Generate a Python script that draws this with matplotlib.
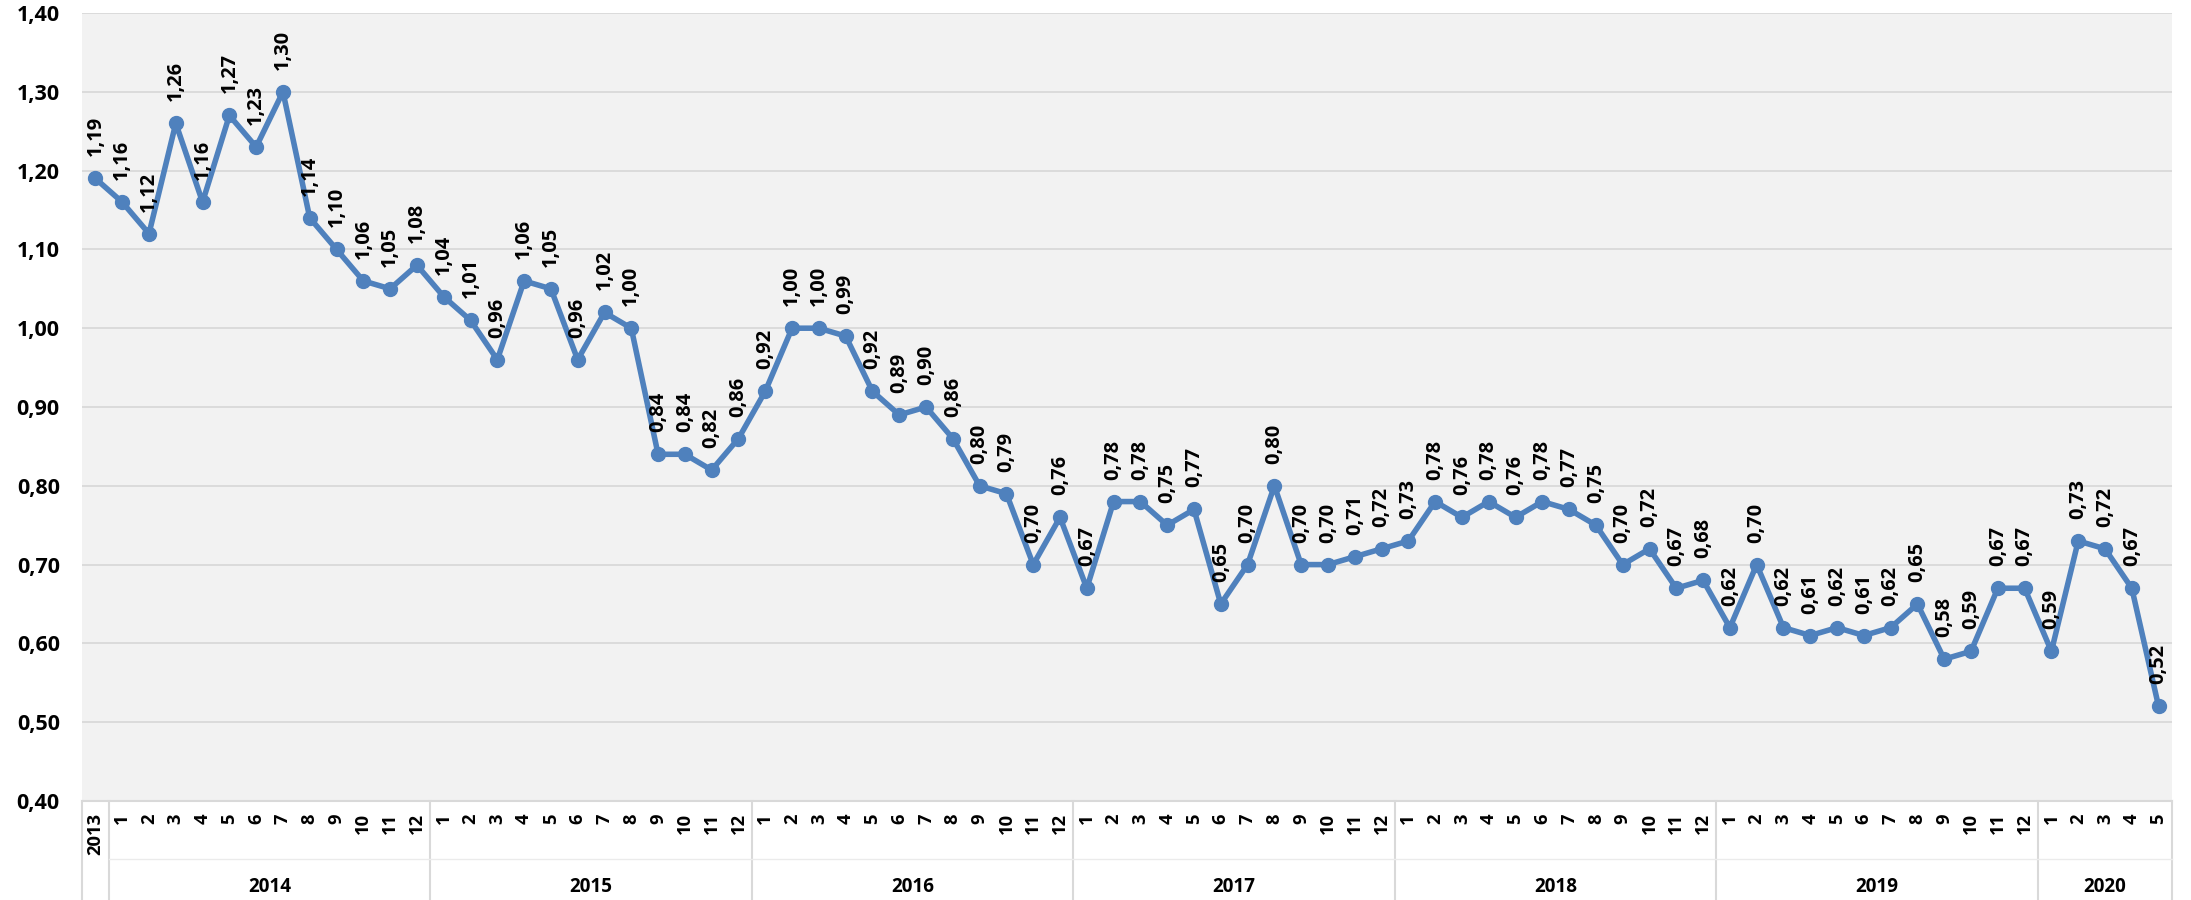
import matplotlib
matplotlib.use("Agg")
import matplotlib.pyplot as plt
import matplotlib.transforms as mtransforms
import numpy as np

plt.rcParams['font.family'] = ['Open Sans', 'DejaVu Sans']
plt.rcParams['font.weight'] = 'bold'

# Monthly values: one point for 2013, then months of 2014-2020
first_label = "2013"
first_value = [1.19]
years = ["2014", "2015", "2016", "2017", "2018", "2019", "2020"]
values_2014 = [1.16, 1.12, 1.26, 1.16, 1.27, 1.23, 1.30, 1.14, 1.10, 1.06, 1.05, 1.08]
values_2015 = [1.04, 1.01, 0.96, 1.06, 1.05, 0.96, 1.02, 1.00, 0.84, 0.84, 0.82, 0.86]
values_2016 = [0.92, 1.00, 1.00, 0.99, 0.92, 0.89, 0.90, 0.86, 0.80, 0.79, 0.70, 0.76]
values_2017 = [0.67, 0.78, 0.78, 0.75, 0.77, 0.65, 0.70, 0.80, 0.70, 0.70, 0.71, 0.72]
values_2018 = [0.73, 0.78, 0.76, 0.78, 0.76, 0.78, 0.77, 0.75, 0.70, 0.72, 0.67, 0.68]
values_2019 = [0.62, 0.70, 0.62, 0.61, 0.62, 0.61, 0.62, 0.65, 0.58, 0.59, 0.67, 0.67]
values_2020 = [0.59, 0.73, 0.72, 0.67, 0.52]
yearly = [values_2014, values_2015, values_2016, values_2017, values_2018, values_2019, values_2020]

y_ticks = [0.40, 0.50, 0.60, 0.70, 0.80, 0.90, 1.00, 1.10, 1.20, 1.30, 1.40]

values = first_value + [v for ys in yearly for v in ys]
month_labels = [first_label] + [str(m + 1) for ys in yearly for m in range(len(ys))]
x = np.arange(len(values))

W, H = 2191, 900
fig = plt.figure(figsize=(W / 100, H / 100), dpi=100)
fig.patch.set_facecolor("white")
renderer = fig.canvas.get_renderer()


def size_for_width(sample, width_px, base=12.0):
    """Font size (pt) at which `sample` renders `width_px` pixels wide in bold."""
    t = fig.text(0, 0, sample, fontsize=base, fontweight="bold")
    w = t.get_window_extent(renderer=renderer).width
    t.remove()
    return base * width_px / w


fs_ytick = size_for_width("1,40", 43)
fs_value = size_for_width("1,00", 40)
fs_month = size_for_width("10", 21)
fs_year = size_for_width("2017", 43)

ax = fig.add_axes([82 / W, (H - 801) / H, (2172 - 82) / W, (801 - 13) / H])
ax.set_facecolor("#F2F2F2")

ax.set_xlim(-0.5, len(values) - 0.5)
ax.set_ylim(0.40, 1.40)
ax.set_yticks(y_ticks)
ax.set_yticklabels([f"{t:.2f}".replace(".", ",") for t in y_ticks],
                   fontsize=fs_ytick, fontweight="bold")
ax.tick_params(axis="y", length=0, pad=16)
ax.set_xticks([])
ax.grid(axis="y", color="#D9D9D9", linewidth=1.3)
ax.set_axisbelow(True)
for s in ax.spines.values():
    s.set_visible(False)

line_color = "#4F81BD"
ax.plot(x, values, color=line_color, linewidth=4.0, marker="o", markersize=10,
        markeredgewidth=1, markerfacecolor=line_color, markeredgecolor=line_color,
        zorder=3, clip_on=False)

# Value labels above each point
for xi, v in zip(x, values):
    ax.annotate(f"{v:.2f}".replace(".", ","), xy=(xi, v), xytext=(0, 22),
                textcoords="offset pixels", rotation=90, ha="center", va="bottom",
                fontsize=fs_value, fontweight="bold", color="black", zorder=4)

# Two-level category axis
trans = mtransforms.blended_transform_factory(ax.transData, ax.transAxes)
sep_color = "#D9D9D9"
ax.plot([-0.5, len(values) - 0.5], [0, 0], transform=trans, color=sep_color,
        linewidth=1.5, clip_on=False)
axis_px = 801 - 13
bottom_frac = -(H - 801) / axis_px
mid_frac = -(859 - 801) / axis_px

bounds = [-0.5, 0.5]
for ys in yearly:
    bounds.append(bounds[-1] + len(ys))
for b in bounds:
    ax.plot([b, b], [0, bottom_frac], transform=trans, color=sep_color,
            linewidth=1.5, clip_on=False)
ax.plot([0.5, bounds[-1]], [mid_frac, mid_frac], transform=trans, color="#EBEBEB",
        linewidth=1.0, clip_on=False)

for xi, lab in zip(x, month_labels):
    ax.annotate(lab, xy=(xi, 0), xycoords=trans, xytext=(0, -12),
                textcoords="offset pixels", rotation=90, ha="center", va="top",
                fontsize=fs_month, fontweight="bold")

for i, yr in enumerate(years):
    cx = (bounds[i + 1] + bounds[i + 2]) / 2
    ax.annotate(yr, xy=(cx, 0), xycoords=trans, xytext=(0, -86),
                textcoords="offset pixels", ha="center", va="center",
                fontsize=fs_year, fontweight="bold")

fig.savefig("out.png", dpi=100, facecolor="white")
